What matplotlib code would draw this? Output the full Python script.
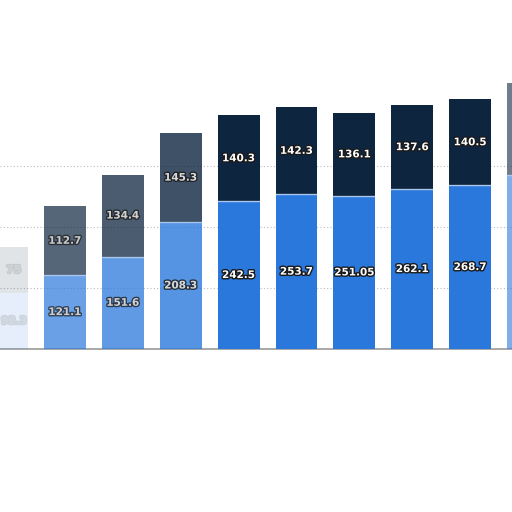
import matplotlib.pyplot as plt
import matplotlib.patheffects as pe
import numpy as np

# %% Data
bottom_vals = [92.3, 121.1, 151.6, 208.3, 242.5, 253.7, 251.05, 262.1, 268.7, 285.0]
top_vals = [75.0, 112.7, 134.4, 145.3, 140.3, 142.3, 136.1, 137.6, 140.5, 151.0]
bottom_labels = ["92.3", "121.1", "151.6", "208.3", "242.5", "253.7", "251.05", "262.1", "268.7", ""]
top_labels = ["75", "112.7", "134.4", "145.3", "140.3", "142.3", "136.1", "137.6", "140.5", ""]
fade = [0.12, 0.7, 0.75, 0.8, 1, 1, 1, 1, 1, 0.6]

blue = "#2b78dc"
navy = "#0e2540"

# %% Figure
fig = plt.figure(figsize=(5.12, 5.12), dpi=100)
ax = fig.add_axes([0, 163 / 512, 1, 349 / 512])

x = np.arange(len(bottom_vals))
w = 0.725
for i in x:
    ax.bar(i, bottom_vals[i], w, color=blue, alpha=fade[i], zorder=3)
    ax.bar(i, top_vals[i], w, bottom=bottom_vals[i], color=navy, alpha=fade[i], zorder=3)
    ax.plot([i - w / 2, i + w / 2], [bottom_vals[i]] * 2, color="white", lw=1,
            alpha=0.6 * fade[i], zorder=4)

# label x: first bar is only half visible, so centre its labels on the visible part
lab_x = x.astype(float)
lab_x[0] = 0.12

stroke = [pe.withStroke(linewidth=2, foreground="#1a1a1a")]
for i in x:
    a = fade[i]
    ax.text(lab_x[i], bottom_vals[i] / 2, bottom_labels[i], ha="center", va="center",
            color="white", fontsize=7.5, fontweight="bold", alpha=a,
            path_effects=stroke, zorder=5)
    ax.text(lab_x[i], bottom_vals[i] + top_vals[i] / 2, top_labels[i], ha="center", va="center",
            color="white", fontsize=7.5, fontweight="bold", alpha=a,
            path_effects=stroke, zorder=5)

ax.set_xlim(-7 / 57.9, 505 / 57.9)
ax.set_ylim(0, 349 / 0.61)
ax.set_yticks([100, 200, 300])
ax.grid(axis="y", color="#bbbbbb", ls=(0, (1, 2)), lw=0.8, zorder=0)
ax.set_xticks([])
ax.tick_params(left=False, labelleft=False)
for s in ["top", "right", "left"]:
    ax.spines[s].set_visible(False)
ax.spines["bottom"].set_color("#999999")
ax.spines["bottom"].set_linewidth(1.2)

fig.savefig("out.png", dpi=100)
